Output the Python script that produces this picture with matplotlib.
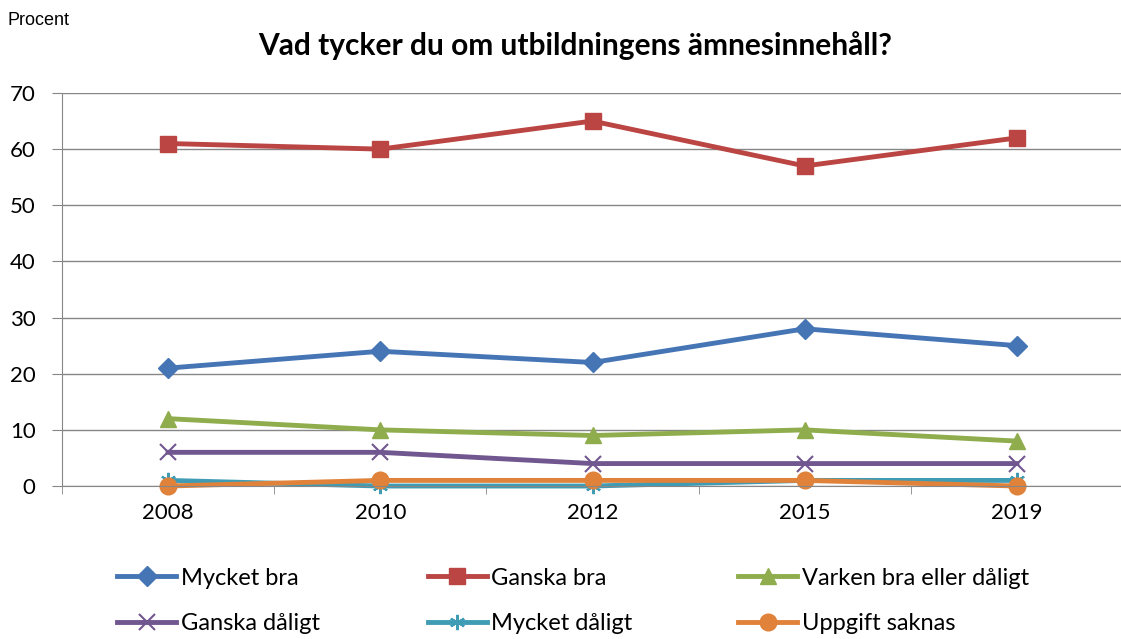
import matplotlib.pyplot as plt
from matplotlib.lines import Line2D

plt.rcParams["font.family"] = ["Lato", "DejaVu Sans"]

years = ["2008", "2010", "2012", "2015", "2019"]
mycket_bra = [21, 24, 22, 28, 25]
ganska_bra = [61, 60, 65, 57, 62]
varken = [12, 10, 9, 10, 8]
ganska_daligt = [6, 6, 4, 4, 4]
mycket_daligt = [1, 0, 0, 1, 1]
uppgift_saknas = [0, 1, 1, 1, 0]

series = [
    ("Mycket bra", mycket_bra, "#4675B5", "D", 10),
    ("Ganska bra", ganska_bra, "#BA4543", "s", 11),
    ("Varken bra eller dåligt", varken, "#8FAD4D", "^", 12),
    ("Ganska dåligt", ganska_daligt, "#71578F", "x", 11),
    ("Mycket dåligt", mycket_daligt, "#3F9CB4", (6, 2, 0), 11),
    ("Uppgift saknas", uppgift_saknas, "#E0823A", "o", 12),
]

fig = plt.figure(figsize=(11.21, 6.39), dpi=100)
ax = fig.add_axes([0.0553, 0.2394, 0.9465, 0.6151])

x = list(range(len(years)))
handles = []
for label, vals, color, marker, ms in series:
    mew = 1.5 if marker in ("x", (6, 2, 0)) else 1
    ax.plot(x, vals, color=color, linewidth=3.5, marker=marker, markersize=ms,
            markeredgecolor=color, markeredgewidth=mew, label=label,
            solid_joinstyle="round", clip_on=False)
    handles.append(Line2D([0], [0], color=color, linewidth=3.5, marker=marker,
                          markersize=ms, markeredgecolor=color,
                          markeredgewidth=mew))

ax.set_xlim(-0.5, 4.5)
ax.set_ylim(0, 70)
ax.set_yticks(range(0, 71, 10))
ax.set_xticks(x)
ax.set_xticklabels(years)
ax.set_xticks([i + 0.5 for i in range(-1, 5)], minor=True)
ax.tick_params(axis="x", which="major", length=0, pad=12, labelsize=16)
ax.tick_params(axis="x", which="minor", length=6, color="#868686")
ax.tick_params(axis="y", length=7, color="#868686", labelsize=16, pad=12)
ax.grid(axis="y", color="#868686", linewidth=1)
ax.set_axisbelow(True)
for s in ("top", "right"):
    ax.spines[s].set_visible(False)
for s in ("left", "bottom"):
    ax.spines[s].set_color("#868686")

fig.text(0.513, 0.928, "Vad tycker du om utbildningens ämnesinnehåll?",
         ha="center", va="center", fontsize=21.5, fontweight="bold")
fig.text(0.007, 0.968, "Procent", ha="left", va="center", fontsize=13,
         family="Liberation Sans")

# legend: row-major, three columns placed individually
col_x = [0.094, 0.371, 0.648]
for c in range(3):
    hs = [handles[c], handles[c + 3]]
    labs = [series[c][0], series[c + 3][0]]
    fig.legend(hs, labs, loc="center left", bbox_to_anchor=(col_x[c], 0.0595),
               frameon=False, fontsize=17, handlelength=2.5,
               labelspacing=1.05, handletextpad=0.2, borderpad=0)

fig.savefig("out.png", dpi=100)
